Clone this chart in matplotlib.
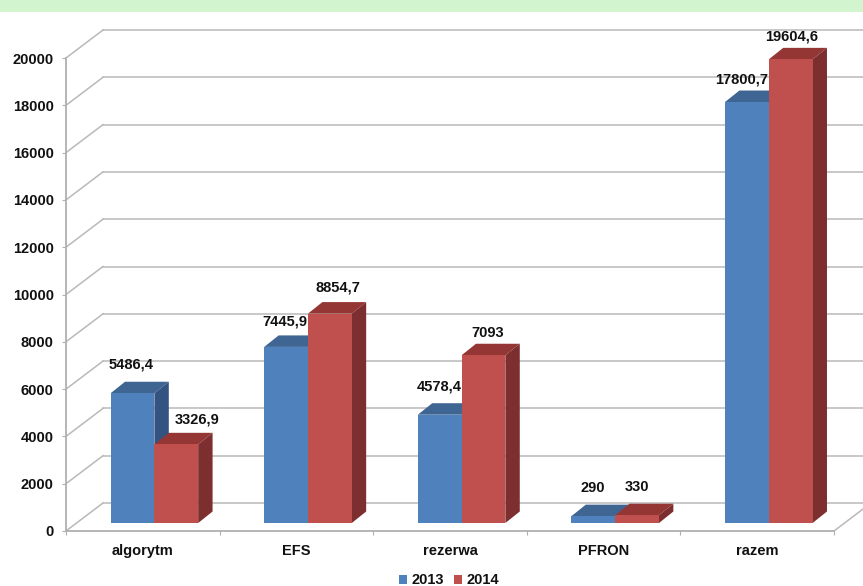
import matplotlib
matplotlib.use("Agg")
import matplotlib.pyplot as plt
from matplotlib.patches import Polygon, Rectangle

plt.rcParams['font.family'] = ['Liberation Sans', 'DejaVu Sans']
plt.rcParams['font.weight'] = 'bold'

categories = ["algorytm", "EFS", "rezerwa", "PFRON", "razem"]
series_2013 = [5486.4, 7445.9, 4578.4, 290, 17800.7]
series_2014 = [3326.9, 8854.7, 7093, 330, 19604.6]
labels_2013 = ["5486,4", "7445,9", "4578,4", "290", "17800,7"]
labels_2014 = ["3326,9", "8854,7", "7093", "330", "19604,6"]
yticks = list(range(0, 20001, 2000))

# label offsets from the bar top centre, in pixels
offs_2013 = [(-1, 29), (-1, 25), (0, 28), (-1, 28), (-5, 23)]
offs_2014 = [(21, 25), (8, 26), (4, 22), (0, 28), (1, 23)]

W, H = 863, 586
fig = plt.figure(figsize=(W / 100, H / 100), dpi=100, facecolor="white")
ax = fig.add_axes([66 / W, 1 - 531 / H, (834 - 66) / W, (531 - 58) / H])
ax.set_xlim(0, 5)
ax.set_ylim(0, 20000)
ax.patch.set_visible(False)

fig.patches.append(Rectangle((0, 1 - 12 / H), 1, 12 / H, transform=fig.transFigure,
                             facecolor="#D2F5D0", edgecolor="none"))

GRID = "#B9B9B9"
# depth of the chart floor and of one bar, in data units
wall_dx, wall_dy = 37 / 153.6, 28 / 47.3 * 2000
inset_dx, inset_dy = 0.0755, 8 / 47.3 * 2000
bar_dx, bar_dy = 14.4 / 153.6, 11.5 / 47.3 * 2000
bar_w = 0.285

for v in yticks:
    ax.plot([0, wall_dx], [v, v + wall_dy], color=GRID, lw=1.1, clip_on=False, zorder=1)
    ax.plot([wall_dx, 5 + wall_dx], [v + wall_dy, v + wall_dy], color=GRID, lw=1.1,
            clip_on=False, zorder=1)
ax.plot([5, 5 + wall_dx], [0, wall_dy], color=GRID, lw=1.1, clip_on=False, zorder=1)


def bars3d(x, vals, color, top, side, labels, offs, z, name):
    ax.bar(x, vals, bar_w, bottom=inset_dy, color=color, zorder=z + 0.2, label=name)
    for xi, v, txt, off in zip(x, vals, labels, offs):
        y1 = inset_dy + v
        xl, xr = xi - bar_w / 2, xi + bar_w / 2
        ax.add_patch(Polygon([(xl, y1), (xr, y1), (xr + bar_dx, y1 + bar_dy), (xl + bar_dx, y1 + bar_dy)],
                             facecolor=top, edgecolor="none", zorder=z, clip_on=False))
        ax.add_patch(Polygon([(xr, inset_dy), (xr, y1), (xr + bar_dx, y1 + bar_dy), (xr + bar_dx, inset_dy + bar_dy)],
                             facecolor=side, edgecolor="none", zorder=z, clip_on=False))
        ax.annotate(txt, (xi, y1), xytext=(off[0] * 0.72, off[1] * 0.72), textcoords="offset points",
                    ha="center", va="center", fontsize=10.5, color="#111111", zorder=10,
                    annotation_clip=False)


centers = [i + 0.5 + inset_dx for i in range(len(categories))]
x13 = [c - bar_w / 2 for c in centers]
x14 = [c + bar_w / 2 for c in centers]
bars3d(x13, series_2013, "#4F81BD", "#3F6593", "#355380", labels_2013, offs_2013, 3, "2013")
bars3d(x14, series_2014, "#C0504D", "#943634", "#7C2F2E", labels_2014, offs_2014, 4, "2014")

for s in ["top", "right"]:
    ax.spines[s].set_visible(False)
for s in ["left", "bottom"]:
    ax.spines[s].set_color("#B0B0B0")
    ax.spines[s].set_linewidth(1.3)

ax.set_yticks(yticks)
ax.set_xticks(range(6))
ax.set_xticklabels([])
ax.set_xticks([i + 0.5 for i in range(5)], minor=True)
ax.set_xticklabels(categories, minor=True, fontsize=10.5, color="#111111")
ax.tick_params(axis="x", which="major", length=3, color="#B0B0B0")
ax.tick_params(axis="x", which="minor", length=0, pad=9.3)
ax.tick_params(axis="y", length=3, color="#B0B0B0", pad=5.8, labelsize=10.5, labelcolor="#111111")

ax.legend(loc="center", bbox_to_anchor=(449 / W, 1 - 580.5 / H), bbox_transform=fig.transFigure,
          ncol=2, frameon=False, fontsize=10.5, handlelength=0.55, handleheight=0.55,
          handletextpad=0.3, columnspacing=0.7, borderpad=0, labelcolor="#111111")

fig.savefig("out.png", dpi=100, facecolor="white")
